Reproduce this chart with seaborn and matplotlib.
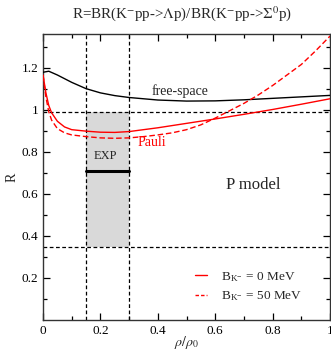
import numpy as np
import pandas as pd
import matplotlib
matplotlib.use("Agg")
import matplotlib.pyplot as plt
import seaborn as sns

# ---- data ----
rho_free = [0.0, 0.02, 0.05, 0.1, 0.15, 0.2, 0.25, 0.3, 0.4, 0.5, 0.6, 0.7, 0.8, 0.9, 1.0]
r_free = [1.178, 1.183, 1.165, 1.13, 1.10, 1.08, 1.067, 1.058, 1.046, 1.041, 1.042, 1.047, 1.054, 1.061, 1.068]

rho_b0 = [0.0, 0.01, 0.02, 0.03, 0.05, 0.075, 0.1, 0.15, 0.2, 0.25, 0.3, 0.4, 0.5, 0.6, 0.7, 0.8, 0.9, 1.0]
r_b0 = [1.165, 1.08, 1.02, 0.985, 0.945, 0.918, 0.905, 0.898, 0.893, 0.892, 0.896, 0.914, 0.935, 0.956, 0.978, 1.001, 1.026, 1.052]

rho_b50 = [0.0, 0.01, 0.02, 0.03, 0.05, 0.075, 0.1, 0.15, 0.2, 0.25, 0.3, 0.35, 0.4, 0.45, 0.5, 0.55, 0.6, 0.65, 0.7, 0.75, 0.8, 0.85, 0.9, 0.95, 1.0]
r_b50 = [1.165, 1.06, 0.99, 0.95, 0.91, 0.89, 0.88, 0.872, 0.866, 0.864, 0.866, 0.872, 0.88, 0.89, 0.905, 0.928, 0.96, 0.995, 1.03, 1.07, 1.115, 1.165, 1.215, 1.28, 1.35]

exp_rho = [0.15, 0.30]
exp_r = 0.71
exp_low, exp_high = 0.345, 0.99

legend_labels = [r"B$_{\mathregular{K}^{-}}$ = 0 MeV", r"B$_{\mathregular{K}^{-}}$ = 50 MeV"]

# ---- style ----
sns.set_style("ticks")
plt.rcParams["font.family"] = ["Liberation Serif", "DejaVu Serif"]
plt.rcParams["mathtext.fontset"] = "stix"
plt.rcParams["axes.linewidth"] = 1.0

fig = plt.figure(figsize=(3.31, 3.53), dpi=100)
ax = fig.add_axes([0.13, 0.0935, 0.867, 0.8102])

df_free = pd.DataFrame({"rho": rho_free, "R": r_free})
df_b0 = pd.DataFrame({"rho": rho_b0, "R": r_b0})
df_b50 = pd.DataFrame({"rho": rho_b50, "R": r_b50})

# shaded exp region
ax.fill_between(exp_rho, [exp_low, exp_low], [exp_high, exp_high], color="#d9d9d9", zorder=0, lw=0)
for xv in exp_rho:
    ax.axvline(xv, color="black", ls=(0, (3, 2)), lw=0.9, zorder=1)
ax.axhline(exp_high, color="black", ls=(0, (3, 2)), lw=0.9, zorder=1)
ax.axhline(exp_low, color="black", ls=(0, (3, 2)), lw=0.9, zorder=1)
ax.plot(exp_rho, [exp_r, exp_r], color="black", lw=2.2, zorder=3)

sns.lineplot(data=df_free, x="rho", y="R", ax=ax, color="black", lw=1.0, legend=False, zorder=4)
sns.lineplot(data=df_b0, x="rho", y="R", ax=ax, color="red", lw=1.0, label=legend_labels[0], zorder=4)
sns.lineplot(data=df_b50, x="rho", y="R", ax=ax, color="red", lw=1.0, label=legend_labels[1], zorder=4)
ax.lines[-1].set_linestyle((0, (4, 2)))

ax.set_xlim(0, 1)
ax.set_ylim(0, 1.36)
ax.set_xticks([0, 0.2, 0.4, 0.6, 0.8, 1.0])
ax.set_xticklabels(["0", "0.2", "0.4", "0.6", "0.8", "1"])
ax.set_yticks([0.2, 0.4, 0.6, 0.8, 1.0, 1.2])
ax.set_yticklabels(["0.2", "0.4", "0.6", "0.8", "1", "1.2"])
ax.set_xticks(np.arange(0.1, 1.0, 0.2), minor=True)
ax.set_yticks([0.1, 0.3, 0.5, 0.7, 0.9, 1.1, 1.3], minor=True)
ax.tick_params(which="both", direction="in", top=True, right=True, labelsize=9.5, colors="black")
ax.tick_params(which="major", length=5, width=0.9)
ax.tick_params(which="minor", length=3, width=0.9)
for s in ax.spines.values():
    s.set_color("#333333")

ax.set_xlabel(r"$\rho/\rho_0$", fontsize=10, labelpad=-2)
ax.set_ylabel("R", fontsize=10, labelpad=2)
fig.text(0.55, 0.963, r"R=BR(K$^{-}$pp->$\Lambda$p)/BR(K$^{-}$pp->$\Sigma^{0}$p)",
         ha="center", va="center", fontsize=10.8)

ax.text(0.477, 1.088, "free-space", fontsize=10, ha="center", va="center")
ax.text(0.38, 0.843, "Pauli", fontsize=10, color="red", ha="center", va="center")
ax.text(0.218, 0.778, "EXP", fontsize=9, ha="center", va="center")
ax.text(0.732, 0.643, "P model", fontsize=12, ha="center", va="center")

leg = ax.legend(loc="upper left", frameon=False, fontsize=9.5, handlelength=0.9,
                handletextpad=1.1, bbox_to_anchor=(0.51, 0.194), borderaxespad=0,
                labelspacing=0.45)
leg.get_lines()[1].set_linestyle((0, (2.5, 1.5)))

fig.savefig("out.png", dpi=100)
